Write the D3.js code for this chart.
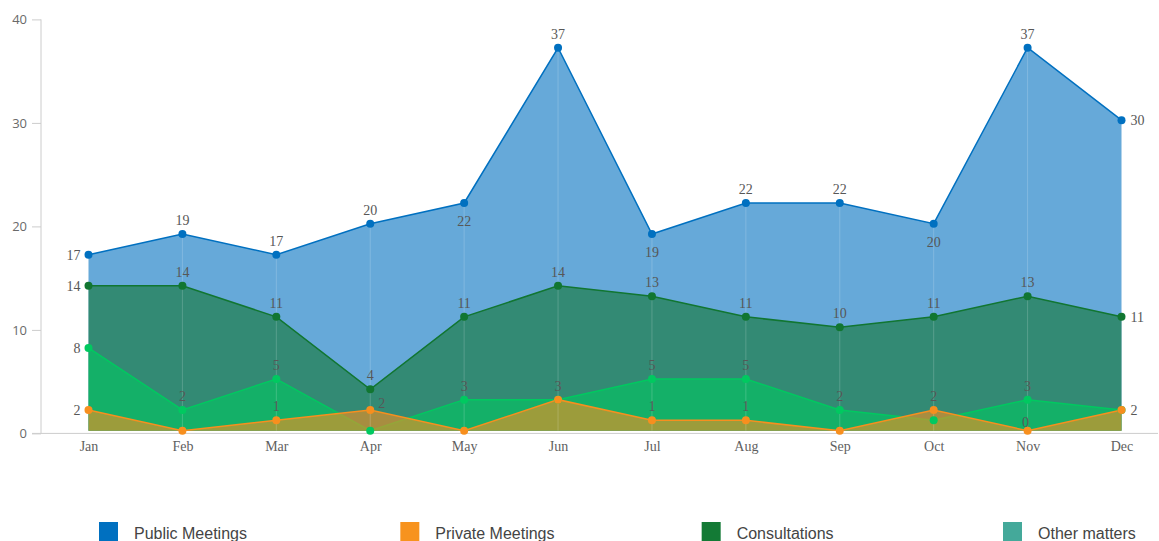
<!DOCTYPE html>
<html>
<head>
<meta charset="utf-8">
<script src="https://cdn.jsdelivr.net/npm/d3@7"></script>
<style>
	body { margin: 0; background: #fff; }
	svg { display: block; }
	.y-axis text { font-family: "Open Sans", "Noto Sans", sans-serif; font-size: 13px; fill: #6a6a6a; }
	.x-axis text { font-family: "Liberation Serif", "DejaVu Serif", serif; font-size: 14px; fill: #5f5f5f; }
	.domain, .tick line { stroke: #ccc; }
	.value-label { font-family: "Liberation Serif", "DejaVu Serif", serif; font-size: 14px; fill: #575757; }
	.legend text { font-family: "Liberation Sans", Arial, sans-serif; font-size: 16px; fill: #444; }
</style>
</head>
<body>
<svg id="chart"></svg>
<script>

/* data */
var months = ["Jan","Feb","Mar","Apr","May","Jun","Jul","Aug","Sep","Oct","Nov","Dec"];
var yTicks = [0, 10, 20, 30, 40];

var publicMeetings  = [17, 19, 17, 20, 22, 37, 19, 22, 22, 20, 37, 30];
var consultations   = [14, 14, 11, 4, 11, 14, 13, 11, 10, 11, 13, 11];
var otherMatters    = [8, 2, 5, 0, 3, 3, 5, 5, 2, 1, 3, 2];
var privateMeetings = [2, 0, 1, 2, 0, 3, 1, 1, 0, 2, 0, 2];

/* where each value label sits: l left, r right, t top, b below, tr top right, "" hidden */
var publicLabels  = ["l","t","t","t","b","t","b","t","t","b","t","r"];
var consultLabels = ["l","t","t","t","t","t","t","t","t","t","t","r"];
var otherLabels   = ["l","t","t","","t","","t","t","t","","t",""];
var privateLabels = ["l","","t","tr","","t","t","t","","t","t0","r"];

/* drawing order: first one is at the back */
var series = [
	{name: "Public Meetings", values: publicMeetings, labels: publicLabels, color: "#0070c0", legend: "#0070c0"},
	{name: "Consultations", values: consultations, labels: consultLabels, color: "#117631", legend: "#137a35"},
	{name: "Other matters", values: otherMatters, labels: otherLabels, color: "#00c960", legend: "#44a99a"},
	{name: "Private Meetings", values: privateMeetings, labels: privateLabels, color: "#f78f1e", legend: "#f7931e"}
];
var legendOrder = ["Public Meetings", "Private Meetings", "Consultations", "Other matters"];

/* settings */
var width = 1159,
	height = 541;

var svg = d3.select("#chart")
	.attr("width", width)
	.attr("height", height);

var xScale = d3.scalePoint()
	.domain(months)
	.range([88.5, 1121.5]);

var yScale = d3.scaleLinear()
	.domain([0, 40])
	.range([430.7, 16.7]);

/* y axis (sits a few px lower than the marks, as in the original) */
svg.append("g")
	.attr("class", "y-axis")
	.attr("transform", "translate(41,2.7)")
	.call(d3.axisLeft(yScale).tickValues(yTicks).tickSize(9).tickPadding(5).tickSizeOuter(0))
	.call(function(g){ g.select(".domain").attr("d", "M0," + yScale(40) + "V" + yScale(0)); });

/* x axis */
var xAxisG = svg.append("g")
	.attr("class", "x-axis")
	.attr("transform", "translate(0,433.4)")
	.call(d3.axisBottom(xScale).tickSize(0).tickPadding(8));
xAxisG.select(".domain").attr("d", "M32,0H1158");

/* areas */
var area = d3.area()
	.x(function(d, i){ return xScale(months[i]); })
	.y0(yScale(0))
	.y1(function(d){ return yScale(d); });

var line = d3.line()
	.x(function(d, i){ return xScale(months[i]); })
	.y(function(d){ return yScale(d); });

var plot = svg.append("g").attr("id", "plot");

series.forEach(function(s){
	plot.append("path")
		.attr("d", area(s.values))
		.attr("fill", s.color)
		.attr("fill-opacity", 0.6);
	plot.append("path")
		.attr("d", line(s.values))
		.attr("fill", "none")
		.attr("stroke", s.color)
		.attr("stroke-width", 1.5);
});

/* faint drop lines at each month */
plot.selectAll(".drop")
	.data(months.slice(1, -1))
	.enter()
	.append("line")
		.attr("class", "drop")
		.attr("x1", function(d){ return xScale(d); })
		.attr("x2", function(d){ return xScale(d); })
		.attr("y1", function(d){ return yScale(publicMeetings[months.indexOf(d)]); })
		.attr("y2", yScale(0))
		.attr("stroke", "#fff")
		.attr("stroke-opacity", 0.18);

/* dots */
series.forEach(function(s){
	plot.selectAll(null)
		.data(s.values)
		.enter()
		.append("circle")
			.attr("cx", function(d, i){ return xScale(months[i]); })
			.attr("cy", function(d){ return yScale(d); })
			.attr("r", 4)
			.attr("fill", s.color);
});

/* value labels */
series.forEach(function(s){
	s.values.forEach(function(v, i){
		var pos = s.labels[i];
		if (!pos) return;
		var px = xScale(months[i]), py = yScale(v);
		var t = plot.append("text")
			.attr("class", "value-label")
			.text(v);
		if (pos == "l") {
			t.attr("x", px - 8).attr("y", py + 5).attr("text-anchor", "end");
		} else if (pos == "r") {
			t.attr("x", px + 9).attr("y", py + 5).attr("text-anchor", "start");
		} else if (pos == "b") {
			t.attr("x", px).attr("y", py + 23).attr("text-anchor", "middle");
		} else if (pos == "tr") {
			t.attr("x", px + 8).attr("y", py - 2).attr("text-anchor", "start");
		} else if (pos == "t0") {
			t.attr("x", px - 2).attr("y", py - 4).attr("text-anchor", "middle");
		} else {
			t.attr("x", px).attr("y", py - 9).attr("text-anchor", "middle");
		}
	});
});

/* legend */
var legendX = d3.scalePoint()
	.domain(legendOrder)
	.range([99, 1003]);

var legend = svg.append("g")
	.attr("class", "legend")
	.selectAll("g")
	.data(legendOrder)
	.enter()
	.append("g")
		.attr("transform", function(d){ return "translate(" + legendX(d) + ",522)"; });

legend.append("rect")
	.attr("width", 19)
	.attr("height", 19)
	.attr("fill", function(d){ return series.find(function(s){ return s.name == d; }).legend; });

legend.append("text")
	.attr("x", 35)
	.attr("y", 17)
	.text(function(d){ return d; });

</script>
</body>
</html>
